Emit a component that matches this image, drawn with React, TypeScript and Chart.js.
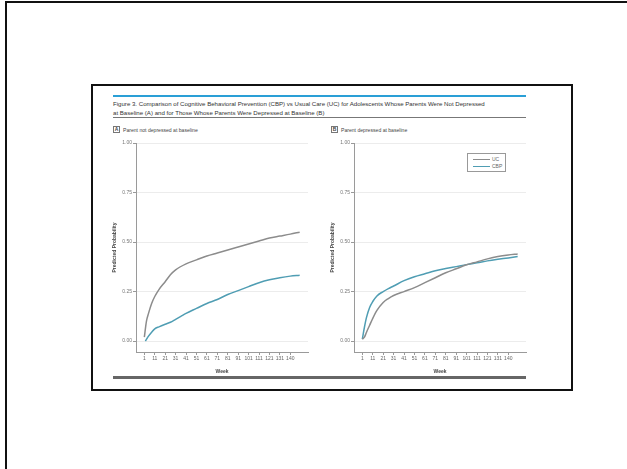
import React, { useEffect, useRef } from "react";
import { Chart, registerables } from "chart.js";

Chart.register(...registerables);

const titleLine1 =
  "Figure 3. Comparison of Cognitive Behavioral Prevention (CBP) vs Usual Care (UC) for Adolescents Whose Parents Were Not Depressed";
const titleLine2 = "at Baseline (A) and for Those Whose Parents Were Depressed at Baseline (B)";
const panelALabel = "Parent not depressed at baseline";
const panelBLabel = "Parent depressed at baseline";
const seriesNames = ["UC", "CBP"];

const weekTicks = [1, 11, 21, 31, 41, 51, 61, 71, 81, 91, 101, 111, 121, 131, 141];
const weekTickLabels = ["1", "11", "21", "31", "41", "51", "61", "71", "81", "91", "101", "111", "121", "131", "140"];
const probTicks = [0, 0.25, 0.5, 0.75, 1.0];

// Panel A
const ucWeeksA = [1, 3, 5, 8, 11, 15, 21, 26, 31, 41, 51, 61, 71, 81, 91, 101, 111, 121, 131, 141, 150];
const ucValuesA = [0.02, 0.1, 0.14, 0.19, 0.225, 0.26, 0.3, 0.335, 0.36, 0.39, 0.41, 0.43, 0.445, 0.46, 0.475, 0.49, 0.505, 0.52, 0.53, 0.54, 0.55];
const cbpWeeksA = [2, 5, 8, 11, 15, 21, 26, 31, 36, 41, 51, 61, 71, 81, 91, 101, 111, 121, 131, 141, 150];
const cbpValuesA = [0.0, 0.025, 0.045, 0.062, 0.072, 0.085, 0.095, 0.11, 0.125, 0.14, 0.165, 0.19, 0.21, 0.235, 0.255, 0.275, 0.295, 0.31, 0.32, 0.328, 0.333];

// Panel B
const ucWeeksB = [1, 3, 5, 8, 11, 15, 21, 26, 31, 41, 51, 61, 71, 81, 91, 101, 111, 121, 131, 141, 150];
const ucValuesB = [0.01, 0.02, 0.045, 0.08, 0.115, 0.155, 0.195, 0.215, 0.23, 0.25, 0.27, 0.295, 0.32, 0.345, 0.365, 0.385, 0.4, 0.415, 0.427, 0.435, 0.44];
const cbpWeeksB = [1, 3, 5, 8, 11, 15, 21, 26, 31, 41, 51, 61, 71, 81, 91, 101, 111, 121, 131, 141, 150];
const cbpValuesB = [0.01, 0.07, 0.12, 0.17, 0.2, 0.228, 0.25, 0.265, 0.278, 0.305, 0.325, 0.34, 0.355, 0.366, 0.376, 0.386, 0.395, 0.405, 0.413, 0.42, 0.427];

const UC_COLOR = "#8c8c8c";
const CBP_COLOR = "#4f9db3";
const FONT = "'Liberation Sans', Arial, sans-serif";

function toPoints(xs: number[], ys: number[]) {
  return xs.map((x, i) => ({ x, y: ys[i] }));
}

type PanelProps = {
  left: number;
  top: number;
  ucX: number[];
  ucY: number[];
  cbpX: number[];
  cbpY: number[];
};

function Panel({ left, top, ucX, ucY, cbpX, cbpY }: PanelProps) {
  const ref = useRef<HTMLCanvasElement | null>(null);
  useEffect(() => {
    if (!ref.current) return;
    const chart = new Chart(ref.current, {
      type: "line",
      data: {
        datasets: [
          {
            label: seriesNames[0],
            data: toPoints(ucX, ucY),
            borderColor: UC_COLOR,
            borderWidth: 1.5,
            pointRadius: 0,
            cubicInterpolationMode: "monotone",
            fill: false,
          },
          {
            label: seriesNames[1],
            data: toPoints(cbpX, cbpY),
            borderColor: CBP_COLOR,
            borderWidth: 1.5,
            pointRadius: 0,
            cubicInterpolationMode: "monotone",
            fill: false,
          },
        ],
      },
      options: {
        animation: false,
        responsive: false,
        layout: { padding: { top: 5, right: 2, left: 0, bottom: 0 } },
        plugins: { legend: { display: false }, tooltip: { enabled: false } },
        scales: {
          x: {
            type: "linear",
            min: -7,
            max: 158,
            afterBuildTicks: (s: any) => {
              s.ticks = weekTicks.map((v) => ({ value: v }));
            },
            afterFit: (s: any) => {
              s.height = 23;
            },
            ticks: {
              autoSkip: false,
              maxRotation: 0,
              padding: 1,
              color: "#666",
              font: { size: 5, family: FONT },
              callback: (v: any) => {
                const i = weekTicks.indexOf(Number(v));
                return i >= 0 ? weekTickLabels[i] : "";
              },
            },
            grid: {
              color: "rgba(0,0,0,0)",
              tickColor: "#999",
              tickLength: 3,
              drawOnChartArea: false,
            },
            border: { display: true, color: "#9a9a9a", width: 1 },
            title: {
              display: true,
              text: "Week",
              color: "#444",
              font: { size: 5, family: FONT, weight: "bold" },
              padding: { top: 1, bottom: 0 },
            },
          },
          y: {
            type: "linear",
            min: -0.055,
            max: 1.0,
            afterBuildTicks: (s: any) => {
              s.ticks = probTicks.map((v) => ({ value: v }));
            },
            afterFit: (s: any) => {
              s.width = 26;
            },
            ticks: {
              padding: 1,
              color: "#777",
              font: { size: 5, family: FONT },
              callback: (v: any) => Number(v).toFixed(2),
            },
            grid: {
              color: "#ececec",
              tickColor: "#999",
              tickLength: 3,
              lineWidth: 1,
            },
            border: { display: true, color: "#9a9a9a", width: 1 },
            title: {
              display: true,
              text: "Predicted Probability",
              color: "#444",
              font: { size: 5, family: FONT, weight: "bold" },
              padding: { top: 2, bottom: 2 },
            },
          },
        },
      },
    } as any);
    return () => chart.destroy();
  }, []);
  return (
    <canvas
      ref={ref}
      width={200}
      height={237}
      style={{ position: "absolute", left, top, width: 200, height: 237 }}
    />
  );
}

function PanelTag({ left, top, letter, text }: { left: number; top: number; letter: string; text: string }) {
  return (
    <div style={{ position: "absolute", left, top, display: "flex", alignItems: "center", fontFamily: FONT, color: "#444" }}>
      <div
        style={{
          width: 7,
          height: 7,
          border: "1px solid #777",
          boxSizing: "border-box",
          fontSize: 5,
          lineHeight: "5px",
          textAlign: "center",
          fontWeight: "bold",
        }}
      >
        {letter}
      </div>
      <div style={{ marginLeft: 3, fontSize: 5.1, whiteSpace: "nowrap" }}>{text}</div>
    </div>
  );
}

export default function App() {
  return (
    <div style={{ position: "absolute", left: 0, top: 0, width: 627, height: 469, background: "#fff", overflow: "hidden" }}>
      {/* outer slide frame */}
      <div
        style={{
          position: "absolute",
          left: 5,
          top: 1,
          width: 700,
          height: 600,
          borderLeft: "2px solid #111",
          borderTop: "2px solid #111",
        }}
      />
      {/* figure box */}
      <div
        style={{
          position: "absolute",
          left: 91,
          top: 84,
          width: 482,
          height: 307,
          border: "2px solid #111",
          boxSizing: "border-box",
        }}
      />
      {/* top blue rule */}
      <div style={{ position: "absolute", left: 113, top: 95, width: 413, height: 2, background: "#2a9fd6" }} />
      {/* title */}
      <div
        style={{
          position: "absolute",
          left: 113,
          top: 99,
          fontFamily: FONT,
          fontSize: 6.1,
          lineHeight: "9px",
          color: "#333",
          whiteSpace: "nowrap",
        }}
      >
        <div>{titleLine1}</div>
        <div>{titleLine2}</div>
      </div>
      <div style={{ position: "absolute", left: 113, top: 117, width: 413, height: 1, background: "#777" }} />
      <PanelTag left={113} top={126} letter="A" text={panelALabel} />
      <PanelTag left={331} top={126} letter="B" text={panelBLabel} />
      <Panel left={110} top={138} ucX={ucWeeksA} ucY={ucValuesA} cbpX={cbpWeeksA} cbpY={cbpValuesA} />
      <Panel left={328} top={138} ucX={ucWeeksB} ucY={ucValuesB} cbpX={cbpWeeksB} cbpY={cbpValuesB} />
      {/* legend in panel B */}
      <div
        style={{
          position: "absolute",
          left: 467,
          top: 153,
          width: 39,
          height: 19,
          border: "1px solid #999",
          boxSizing: "border-box",
          background: "#fff",
          fontFamily: FONT,
          fontSize: 5,
          color: "#666",
        }}
      >
        {seriesNames.map((n, i) => (
          <div key={n} style={{ position: "absolute", left: 5, top: 3 + i * 7, display: "flex", alignItems: "center" }}>
            <div style={{ width: 17, height: 1, background: i === 0 ? UC_COLOR : CBP_COLOR }} />
            <div style={{ marginLeft: 2, lineHeight: "5px" }}>{n}</div>
          </div>
        ))}
      </div>
      {/* bottom rule */}
      <div style={{ position: "absolute", left: 113, top: 376, width: 413, height: 3, background: "#666" }} />
    </div>
  );
}
